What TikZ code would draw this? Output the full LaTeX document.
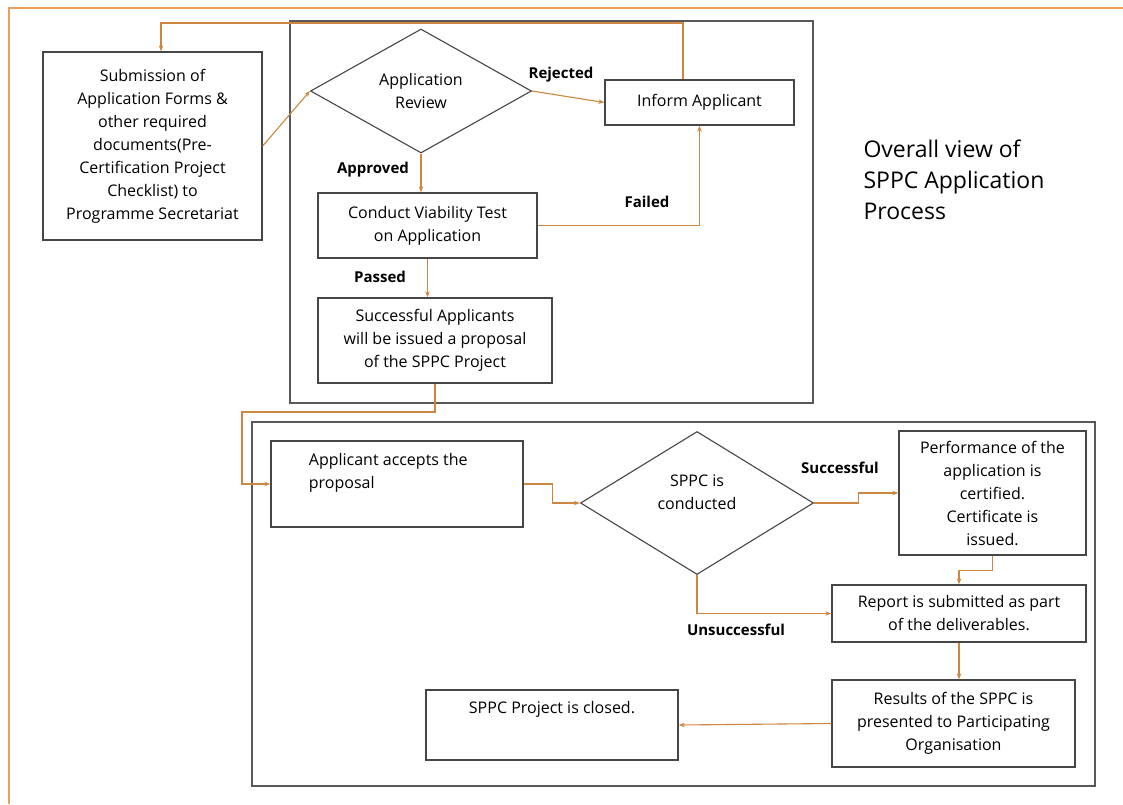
\documentclass[tikz,border=0pt]{standalone}
\usepackage{fontspec}
\setmainfont{Open Sans}
\usetikzlibrary{shapes.geometric,arrows.meta}
\definecolor{flowline}{RGB}{205,135,65}
\definecolor{frameorange}{RGB}{232,160,90}
\definecolor{boxgray}{RGB}{70,70,70}
\tikzset{x=1pt, y=-1pt,
    every node/.style={font=\fontsize{16}{23}\selectfont},
    procbox/.style={draw=boxgray, line width=1.3pt, align=center, inner sep=0pt},
    decision/.style={diamond, draw=boxgray, line width=1.1pt, align=center, inner sep=0pt},
    groupbox/.style={draw=boxgray!90, line width=1.8pt, inner sep=0pt},
    flow/.style={draw=flowline, line width=1.1pt, -{Stealth[length=6pt,width=4.5pt]}},
    outcome/.style={font=\bfseries\fontsize{15}{18}\selectfont},
    }

\begin{document}
\begin{tikzpicture}
	\useasboundingbox (0,0) rectangle (1123,804);
	\fill[white] (0,0) rectangle (1123,804);
	\draw[frameorange, line width=1.5pt] (9,804) -- (9,8) -- (1123,8);
	% review stage
	\node[groupbox, minimum width=523, minimum height=382] (grpA) at (551.5,212) {};
	\node[procbox, minimum width=219, minimum height=188] (sub) at (152.5,146)
		{Submission of\\Application Forms \&\\other required\\documents(Pre-\\Certification Project\\Checklist) to\\Programme Secretariat};
	\node[decision, minimum width=221, minimum height=124] (rev) at (421,91) {Application\\Review};
	\node[procbox, minimum width=189, minimum height=45] (inform) at (699.5,102.5) {Inform Applicant};
	\node[procbox, minimum width=219, minimum height=65] (via) at (427.5,225.5) {Conduct Viability Test\\on Application};
	\node[procbox, minimum width=234, minimum height=85] (prop) at (435,340.5)
		{Successful Applicants\\will be issued a proposal\\of the SPPC Project};
	% project stage
	\node[groupbox, minimum width=843, minimum height=364] (grpB) at (673.5,604) {};
	\node[procbox, minimum width=252, minimum height=86] (accept) at (397,484) {};
	\node[anchor=north west, align=left] (accepttxt) at ([shift={(35,9)}]accept.north west)
		{Applicant accepts the\\proposal};
	\node[decision, minimum width=233, minimum height=143] (sppc) at (697,503) {SPPC is\\conducted\\[-1pt]};
	\node[procbox, minimum width=187, minimum height=124] (perf) at (992.5,493)
		{Performance of the\\application  is\\certified.\\Certificate is\\issued.};
	\node[procbox, minimum width=254, minimum height=57] (report) at (959,613.5)
		{Report is submitted as part\\of the deliverables.};
	\node[procbox, minimum width=243, minimum height=87] (results) at (953.5,723.5)
		{Results of the SPPC is\\presented to Participating\\Organisation};
	\node[procbox, minimum width=252, minimum height=70] (closed) at (552,725) {};
	\node[anchor=north] (closedtxt) at ([shift={(0,8)}]closed.north) {SPPC Project is closed.};
	% labels
	\node[outcome] (lblrej) at (561,75) {Rejected};
	\node[outcome] (lblapp) at (373,170) {Approved};
	\node[outcome] (lblfail) at (647,202) {Failed};
	\node[outcome] (lblpass) at (380,277) {Passed};
	\node[outcome] (lblsucc) at (840,468) {Successful};
	\node[outcome] (lblunsucc) at (736,630) {Unsuccessful};
	\node[anchor=west, align=left, font=\fontsize{23}{31}\selectfont] (title) at (860,180)
		{Overall view of\\SPPC Application\\Process};
	% connectors
	\coordinate (fbtop) at (161,23);
	\coordinate (loop) at (242,412);
	\draw[flow] (sub.east) -- (rev.west);
	\draw[flow] (rev.east) -- (inform.west);
	\draw[flow] ([xshift=-16.5pt]inform.north) |- (fbtop) -- (fbtop |- sub.north);
	\draw[flow] (rev.south) -- (rev.south |- via.north);
	\draw[flow] (via.east) -| (inform.south);
	\draw[flow] (via.south) -- (via.south |- prop.north);
	\draw[flow] (prop.south) |- (loop) |- (accept.west);
	\draw[flow] (accept.east) -- ++(29,0) |- (sppc.west);
	\draw[flow] (sppc.east) -- ++(44,0) |- (perf.west);
	\draw[flow] (sppc.south) |- (report.west);
	\draw[flow] (perf.south) -- ++(0,15) -| (report.north);
	\draw[flow] (report.south) -- (report.south |- results.north);
	\draw[flow] (results.west) -- (closed.east);
\end{tikzpicture}
\end{document}
